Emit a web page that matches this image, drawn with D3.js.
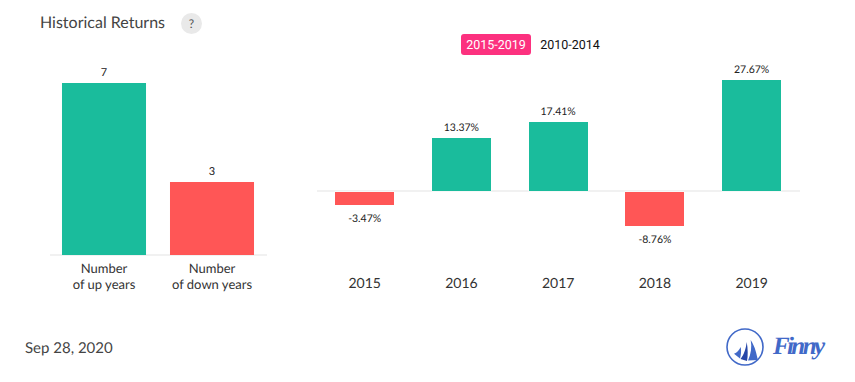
<!DOCTYPE html>
<html>
<head>
<meta charset="utf-8">
<script src="https://cdnjs.cloudflare.com/ajax/libs/d3/7.8.5/d3.min.js"></script>
<style>
html,body{margin:0;padding:0;background:#fff;}
svg{display:block;}
text{font-family:Lato,sans-serif;text-rendering:geometricPrecision;}
</style>
</head>
<body>
<script>
const countLabels=[["Number","of up years"],["Number","of down years"]];
const countValues=[7,3];
const years=["2015","2016","2017","2018","2019"];
const returns=[-3.47,13.37,17.41,-8.76,27.67];
const ranges=["2015-2019","2010-2014"];

const green="#1abc9c", red="#ff5656";

const svg=d3.select("body").append("svg")
  .attr("width",855)
  .attr("height",382);

//title
svg.append("text")
  .attr("x",40).attr("y",28)
  .style("font-size","16px")
  .attr("fill","#444")
  .text("Historical Returns");

svg.append("circle")
  .attr("cx",191.5).attr("cy",23.5).attr("r",10.5)
  .attr("fill","#e9e9e9");
svg.append("text")
  .attr("x",191.5).attr("y",28)
  .attr("text-anchor","middle")
  .style("font-size","12px")
  .attr("fill","#555")
  .text("?");

//left chart
const xL=d3.scaleBand()
  .domain(countLabels.map((d,i)=>i))
  .range([50,266])
  .paddingInner(0.222)
  .paddingOuter(0.111);
const yL=d3.scaleLinear().domain([0,7]).range([255,83]);

svg.append("line")
  .attr("x1",50).attr("x2",267)
  .attr("y1",yL(0)).attr("y2",yL(0))
  .attr("stroke","#ececec").attr("stroke-width",1.5);

svg.selectAll(".cnt")
  .data(countValues)
  .enter()
  .append("rect")
  .attr("class","cnt")
  .attr("x",(d,i)=>xL(i))
  .attr("y",d=>Math.ceil(yL(d)))
  .attr("width",xL.bandwidth())
  .attr("height",d=>yL(0)-Math.ceil(yL(d)))
  .attr("fill",(d,i)=>i==0?green:red);

svg.selectAll(".cntv")
  .data(countValues)
  .enter()
  .append("text")
  .attr("class","cntv")
  .attr("x",(d,i)=>xL(i)+xL.bandwidth()/2)
  .attr("y",d=>Math.ceil(yL(d))-7)
  .attr("text-anchor","middle")
  .style("font-size","11px")
  .attr("fill","#222")
  .text(d=>d);

countLabels.forEach(function(lines,i){
  lines.forEach(function(s,j){
    svg.append("text")
      .attr("x",xL(i)+xL.bandwidth()/2)
      .attr("y",273+j*16)
      .attr("text-anchor","middle")
      .style("font-size","13px")
      .attr("fill","#333")
      .text(s);
  });
});

//right chart
const xR=d3.scaleBand()
  .domain(years)
  .range([316.3,800.05])
  .paddingInner(0.39)
  .paddingOuter(0.195);
const yR=d3.scaleLinear().domain([0,27.67]).range([191,80]);

svg.append("line")
  .attr("x1",317).attr("x2",800)
  .attr("y1",yR(0)).attr("y2",yR(0))
  .attr("stroke","#ececec").attr("stroke-width",1.5);

svg.selectAll(".ret")
  .data(returns)
  .enter()
  .append("rect")
  .attr("class","ret")
  .attr("x",(d,i)=>Math.round(xR(years[i])))
  .attr("y",d=>d<0?yR(0)+1:Math.ceil(yR(d)))
  .attr("width",59)
  .attr("height",d=>d<0?Math.round(yR(d))-yR(0)-1:yR(0)-Math.ceil(yR(d)))
  .attr("fill",d=>d<0?red:green)
  .attr("stroke","#fff").attr("stroke-width",1)
  .attr("paint-order","stroke");

svg.selectAll(".retv")
  .data(returns)
  .enter()
  .append("text")
  .attr("class","retv")
  .attr("x",(d,i)=>xR(years[i])+xR.bandwidth()/2)
  .attr("y",d=>d<0?yR(d)+17:Math.ceil(yR(d))-7)
  .attr("text-anchor","middle")
  .style("font-size","10.5px")
  .attr("fill","#222")
  .text(d=>d.toFixed(2)+"%");

const axisR=d3.axisBottom(xR).tickSize(0);
const gx=svg.append("g")
  .attr("transform","translate(0,278)")
  .call(axisR);
gx.select(".domain").remove();
gx.selectAll("text")
  .attr("dy","0.71em")
  .attr("y",0)
  .style("font-family","Lato,sans-serif")
  .style("font-size","14px")
  .attr("fill","#333");

//切替ボタン
svg.append("rect")
  .attr("x",461).attr("y",34)
  .attr("width",70).attr("height",21)
  .attr("rx",3)
  .attr("fill","#fc317f");
svg.append("text")
  .attr("x",496).attr("y",49)
  .attr("text-anchor","middle")
  .style("font-family","Roboto,sans-serif")
  .style("font-size","12.5px")
  .attr("fill","#fff")
  .text(ranges[0]);
svg.append("text")
  .attr("x",570).attr("y",49)
  .attr("text-anchor","middle")
  .style("font-family","Roboto,sans-serif")
  .style("font-size","12.5px")
  .attr("fill","#111")
  .text(ranges[1]);

//date
svg.append("text")
  .attr("x",25).attr("y",353)
  .style("font-size","15px")
  .attr("fill","#444")
  .text("Sep 28, 2020");

//logo
const logo=svg.append("g");
logo.append("circle")
  .attr("cx",745).attr("cy",347).attr("r",18)
  .attr("fill","none")
  .attr("stroke","#4169c8").attr("stroke-width",1.6);
logo.append("path").attr("d","M750.7 340 C755.5 347 756.5 355 758 360 L748 360.5 C751 354 752 347 750.7 340Z").attr("fill","#4169c8");
logo.append("path").attr("d","M746.7 342 C748 349 748 356 747 361 L740.5 359 C744 355 746 348 746.7 342Z").attr("fill","#2646a8");
logo.append("path").attr("d","M740.7 347 C741.5 351 741 355 740 358.5 L734 353.7 C737 353 739 350 740.7 347Z").attr("fill","#4169c8");
svg.append("text")
  .attr("x",773).attr("y",354)
  .style("font-family","'Liberation Serif',serif")
  .style("font-style","italic")
  .style("font-weight","bold")
  .style("font-size","25px")
  .attr("fill","#4169c8")
  .attr("textLength",52)
  .text("Finny");
</script>
</body>
</html>
